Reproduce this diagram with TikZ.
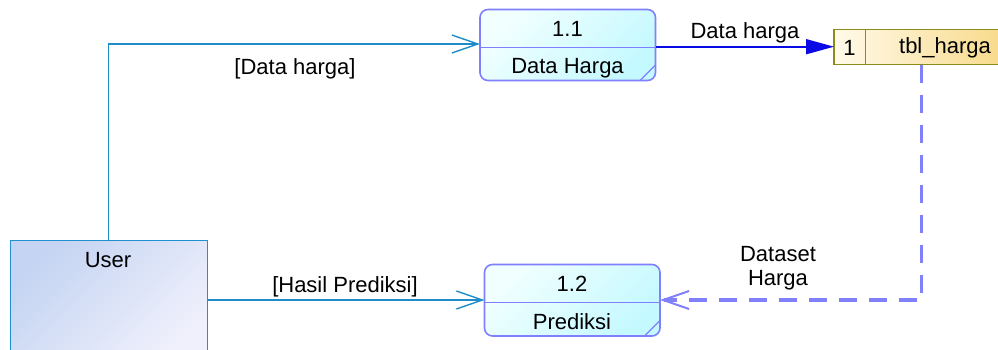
\documentclass[tikz,border=0pt]{standalone}
\usepackage{fontspec}
\setmainfont{Liberation Sans}
\usetikzlibrary{arrows.meta}
\definecolor{flowcol}{HTML}{1E8CC8}
\definecolor{storeflow}{HTML}{0A0AE6}
\definecolor{dashcol}{HTML}{8080FA}
\definecolor{procline}{HTML}{8080FF}
\definecolor{procA}{HTML}{F2FFFF}
\definecolor{procB}{HTML}{C4F9FF}
\definecolor{userA}{HTML}{C4D4F2}
\definecolor{userB}{HTML}{F0F0FC}
\definecolor{userline}{HTML}{2090D0}
\definecolor{storeline}{HTML}{8C8C1C}
\definecolor{storeA}{HTML}{FFFAEA}
\definecolor{storeB}{HTML}{F5CF6A}
\tikzset{
  x=1pt, y=-1pt,
  lbl/.style={font=\fontsize{22}{24}\selectfont, inner sep=0pt, text=black},
  procbox/.style={draw=procline, line width=1.6pt, rounded corners=8pt,
    shading=axis, top color=procA, bottom color=procB, shading angle=45},
  flow/.style={draw=flowcol, line width=1.6pt,
    -{Straight Barb[length=26pt,width=18pt,line width=1.4pt]}},
  dflow/.style={draw=dashcol, line width=3.8pt, dash pattern=on 18pt off 12pt,
    -{Straight Barb[length=26pt,width=18pt,line width=2pt]}},
  sflow/.style={draw=storeflow, line width=1.6pt,
    -{Triangle[length=28pt,width=15pt]}},
}
\begin{document}
\begin{tikzpicture}
\useasboundingbox (0,0) rectangle (998,349);
\clip (0,0) rectangle (998,349);

% external entity
\path[draw=userline, line width=1.6pt, shading=axis, top color=userA, bottom color=userB, shading angle=45]
  (10.5,240.5) rectangle (207.5,360);
\coordinate (usrtop) at (108.5,240.5);
\coordinate (usrright) at (207.5,300);
\node[lbl] (usr) at (108,260) {User};

% process 1.1
\path[procbox] (480,9.5) rectangle (655.5,80.5);
\draw[procline, line width=1.6pt] (480,47.5) -- (655.5,47.5);
\draw[procline, line width=1.2pt] (640,80.5) -- (655.5,65);
\coordinate (p1left) at (480,44);
\coordinate (p1right) at (655.5,46.7);
\node[lbl] (p1num) at (567.5,29) {1.1};
\node[lbl] (p1name) at (567.5,68) {Data Harga};

% process 1.2
\path[procbox] (484.5,264.5) rectangle (660,336);
\draw[procline, line width=1.6pt] (484.5,302.5) -- (660,302.5);
\draw[procline, line width=1.2pt] (644.5,336) -- (660,320.5);
\coordinate (p2left) at (484.5,300);
\coordinate (p2right) at (660,300);
\node[lbl] (p2num) at (572,284) {1.2};
\node[lbl] (p2name) at (572,322) {Prediksi};

% data store
\path[draw=storeline, line width=1.6pt, shading=axis, left color=storeA, right color=storeB]
  (834,29.5) rectangle (1060,64.5);
\draw[storeline, line width=1.6pt] (865.5,29.5) -- (865.5,64.5);
\coordinate (dsleft) at (834,46.7);
\coordinate (dsbottom) at (921.5,64.5);
\node[lbl] (dsnum) at (849.5,48) {1};
\node[lbl] (dsname) at (945,48) {tbl\_harga};

% flows
\draw[flow] (usrtop) |- (p1left);
\node[lbl] (l1) at (295,69) {[Data harga]};

\draw[sflow] (p1right) -- (dsleft);
\node[lbl] (l2) at (745,33) {Data harga};

\draw[dflow] (dsbottom) |- (p2right);
\node[lbl, align=center] (l3) at (778,268) {Dataset\\Harga};

\draw[flow] (usrright) -- (p2left);
\node[lbl] (l4) at (345,287) {[Hasil Prediksi]};
\end{tikzpicture}
\end{document}
